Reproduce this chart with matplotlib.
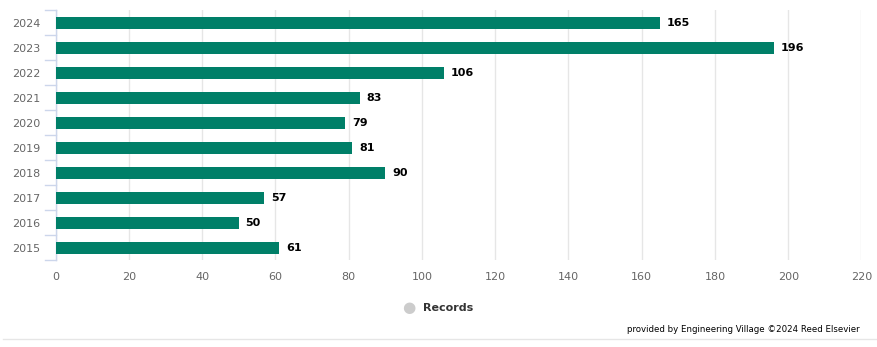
import matplotlib.pyplot as plt
from matplotlib.lines import Line2D

# Records per publication year
years = ['2015', '2016', '2017', '2018', '2019', '2020', '2021', '2022', '2023', '2024']
records = [61, 50, 57, 90, 81, 79, 83, 106, 196, 165]
x_ticks = [0, 20, 40, 60, 80, 100, 120, 140, 160, 180, 200, 220]

bar_color = '#007f68'
axis_color = '#ccd6eb'
grid_color = '#e6e6e6'

fig = plt.figure(figsize=(8.77, 3.47), dpi=100)
ax = fig.add_axes([0.0633, 0.2493, 0.919, 0.7219])

pos = list(range(len(years)))
ax.barh(pos, records, height=0.48, color=bar_color, zorder=3)

# value labels at the end of each bar
for p, v in zip(pos, records):
    ax.annotate(str(v), (v, p), xytext=(5, 0), textcoords='offset points',
                ha='left', va='center', fontsize=8, fontweight='bold',
                color='black', zorder=4)

ax.set_xlim(0, 220)
ax.set_ylim(-0.5, len(years) - 0.5)
ax.set_xticks(x_ticks)
ax.set_xticklabels([str(t) for t in x_ticks])
ax.set_yticks(pos)
ax.set_yticklabels(years)

# vertical grid lines only
ax.grid(axis='x', color=grid_color, linewidth=1, zorder=0)
ax.grid(axis='y', visible=False)

for side in ['top', 'right', 'bottom']:
    ax.spines[side].set_visible(False)
ax.spines['left'].set_color(axis_color)
ax.spines['left'].set_linewidth(1)

ax.tick_params(axis='x', length=0, labelsize=8, labelcolor='#666666', pad=8)
ax.tick_params(axis='y', length=0, labelsize=8, labelcolor='#666666', pad=11)

# category boundary ticks on the y axis
for b in [i - 0.5 for i in range(len(years) + 1)]:
    ax.add_line(Line2D([-0.0125, 0], [b, b], transform=ax.get_yaxis_transform(),
                       color=axis_color, linewidth=1, clip_on=False))

# legend
fig.text(409 / 877, 1 - 308 / 347, '\u25cf', fontsize=11, color='#cccccc',
         ha='center', va='center')
fig.text(423 / 877, 1 - 308 / 347, 'Records', fontsize=8, fontweight='bold',
         color='#333333', ha='left', va='center')

# footer credit and rule
fig.text(860 / 877, 1 - 330 / 347, 'provided by Engineering Village \u00a92024 Reed Elsevier',
         fontsize=6.2, color='black', ha='right', va='center')
fig.add_artist(Line2D([3 / 877, 1], [1 - 339 / 347, 1 - 339 / 347],
                      transform=fig.transFigure, color='#e6e6e6', linewidth=1))

fig.savefig('out.png', dpi=100)
